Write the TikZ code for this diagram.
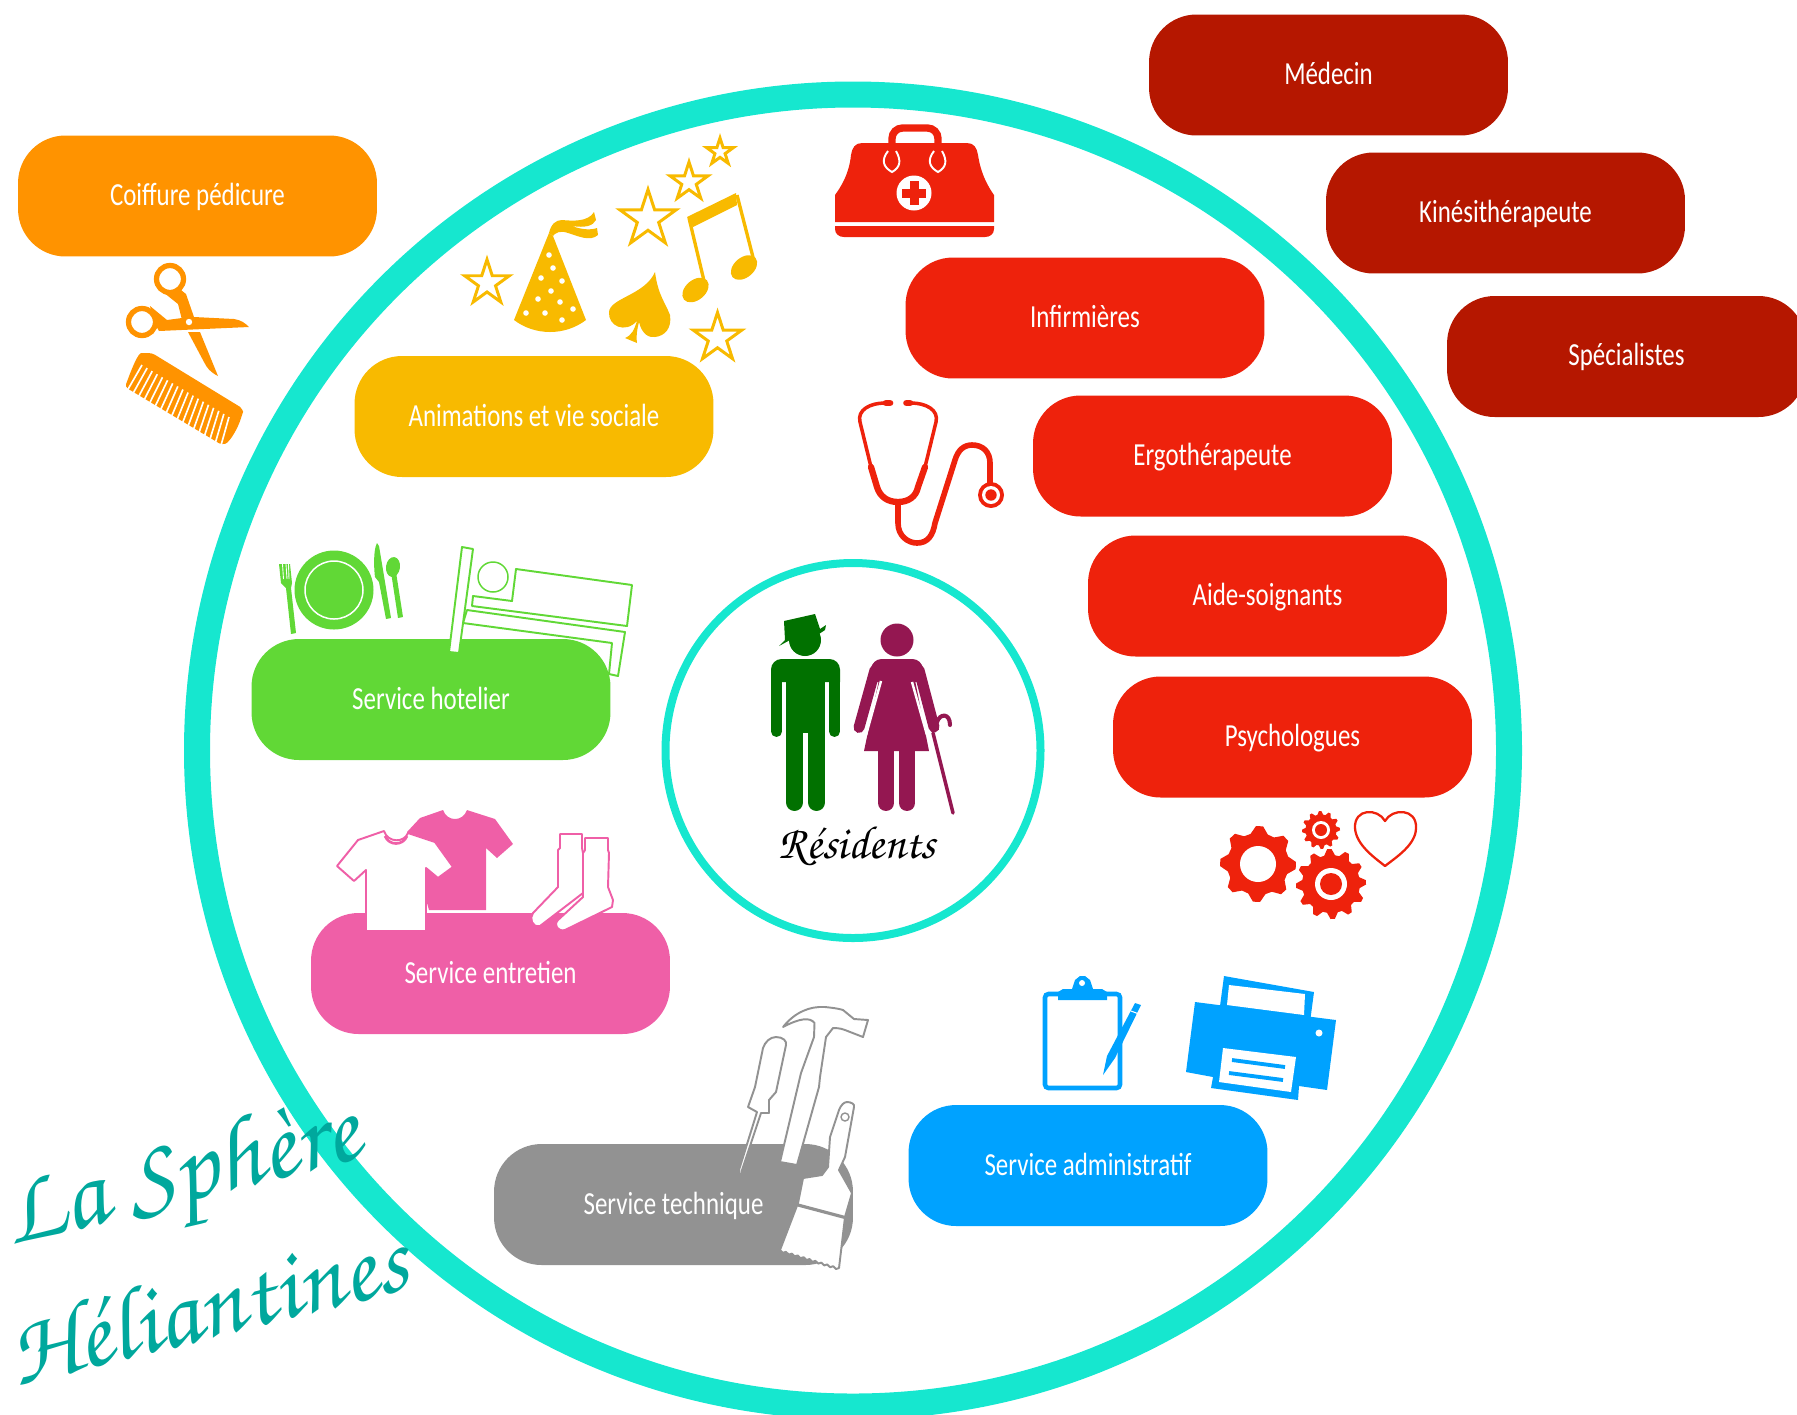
\documentclass[tikz,border=0pt]{standalone}
\usepackage{fontspec}
\setmainfont{Carlito}[FakeStretch=0.775]
\newfontfamily\chorusfont{TeX Gyre Chorus}
\definecolor{cring}{HTML}{16E7CF}
\definecolor{corange}{HTML}{FF9300}
\definecolor{cyellow}{HTML}{F8BA00}
\definecolor{cdarkred}{HTML}{B51700}
\definecolor{cred}{HTML}{EE220C}
\definecolor{cgreen}{HTML}{61D836}
\definecolor{cpink}{HTML}{EF5FA7}
\definecolor{cgray}{HTML}{929292}
\definecolor{cblue}{HTML}{00A2FF}
\definecolor{cman}{HTML}{017100}
\definecolor{cwoman}{HTML}{941751}
\definecolor{ctitle}{HTML}{00A89D}
\tikzset{
  pill/.style={rounded corners=0.95cm,minimum width=7.18cm,minimum height=2.42cm,inner sep=0pt,text=white,text height=14.8pt,text depth=4pt,font=\fontsize{18.3}{22}\selectfont},
  titletext/.style={text=ctitle,rotate=14,inner sep=0pt},
  outl/.style={fill=white,line width=1.1pt,line join=round},
  capline/.style={line cap=round,line join=round}
}
\newcommand\starshape[4]{\draw[draw=#4,line width=1.7pt,line join=miter,fill=white,shift={(#1,#2)},scale=#3]
  (0,-1)--(0.2245,-0.309)--(0.951,-0.309)--(0.363,0.118)--(0.588,0.809)--(0,0.382)--(-0.588,0.809)--(-0.363,0.118)--(-0.951,-0.309)--(-0.2245,-0.309)--cycle;}
% x y teeth root outer rotation
\newcommand\gearshape[6]{\fill[cred,shift={(#1,#2)}] (#6:#4)
  \foreach \i [evaluate=\i as \a using \i*360/#3+#6] in {1,...,#3}{
    -- ({\a-0.62*360/#3}:#4) -- ({\a-0.38*360/#3}:#5) -- ({\a-0.14*360/#3}:#5) -- ({\a+0.1*360/#3}:#4) -- ({\a+0.1*360/#3}:#4)
  } -- cycle;}
\begin{document}
\begin{tikzpicture}[x=0.02cm,y=-0.02cm]
\useasboundingbox (0,0) rectangle (1797,1414);
\clip (0,0) rectangle (1797,1414);
% rings
\draw[cring,line width=0.52cm] (853,750.5) circle[radius=656];
\draw[cring,line width=0.16cm] (853,750.5) circle[radius=187.5];
% bed frame, behind the green pill
\draw[cgreen,outl] (467,610)--(625,632)--(618,676)--(609,674)--(612,643)--(463,623)--cycle;
% pills
\node[pill,fill=corange] (coiffure) at (197.5,196) {Coiffure pédicure};
\node[pill,fill=cyellow] (animations) at (534,416.5) {Animations et vie sociale};
\node[pill,fill=cdarkred] (medecin) at (1328.5,75) {Médecin};
\node[pill,fill=cdarkred] (kine) at (1505.5,213) {Kinésithérapeute};
\node[pill,fill=cdarkred] (specialistes) at (1626.5,356.5) {Spécialistes};
\node[pill,fill=cred] (infirmieres) at (1085,318) {Infirmières};
\node[pill,fill=cred] (ergo) at (1212.5,456) {Ergothérapeute};
\node[pill,fill=cred] (aide) at (1267.5,596) {Aide-soignants};
\node[pill,fill=cred] (psy) at (1292.5,737) {Psychologues};
\node[pill,fill=cgreen] (hotelier) at (431,699.5) {Service hotelier};
\node[pill,fill=cpink] (entretien) at (490.5,973.5) {Service entretien};
\node[pill,fill=cgray] (technique) at (673.5,1204.5) {Service technique};
\node[pill,fill=cblue] (admin) at (1088,1165.5) {Service administratif};
% scissors
\draw[corange,line width=5pt*0.6] (170,279) circle[radius=13.5];
\draw[corange,line width=5pt*0.6] (142,322) circle[radius=13.5];
\fill[corange] (163,292)--(178,304)--(182,320)--(192,320)--(194,317)--(186,294)--(181,290)--cycle;
\fill[corange] (150,306)--(167,320)--(182,318)--(183,325)--(159,331)--(154,322)--cycle;
\fill[corange] (194,317)--(234,319) .. controls (241,320) and (245,323) .. (249,327) -- (159,331)--(182,318)--cycle;
\fill[corange] (188,332)--(200,332)--(218,376) .. controls (210,372) and (207,368) .. (204,362)--cycle;
\fill[white] (189,322) circle[radius=3.2];
% comb
\fill[corange,rounded corners=2pt] (125,387) .. controls (132,368) and (138,353) .. (145,353) -- (152,353) -- (237,405) .. controls (242,408) and (243,412) .. (242,415) .. controls (238,428) and (230,442) .. (222,445) -- cycle;
\foreach \t in {0,0.0588,...,1.01}{
  \draw[white,line width=0.95pt] ({142+87*\t},{365+52*\t}) -- ({127+93*\t},{391+58*\t});
}
% animation icons
\starshape{487}{283}{23.5}{cyellow}
\starshape{648}{219}{29.5}{cyellow}
\starshape{689}{182}{20}{cyellow}
\starshape{720}{152}{14}{cyellow}
\starshape{717.5}{338}{25.5}{cyellow}
% party hat
\fill[cyellow] (553,236) -- (586,320) .. controls (565,336) and (535,336) .. (514,320) -- (549,233) -- cycle;
\fill[cyellow] (549,233) .. controls (551,224) and (556,220) .. (562,220) .. controls (573,221) and (588,222) .. (594,212) -- (596,220) .. controls (593,226) and (585,228) .. (572,226) .. controls (582,230) and (592,230) .. (597,228) -- (598,235) .. controls (590,242) and (578,236) .. (568,233) .. controls (560,230) and (555,233) .. (553,236) -- cycle;
\foreach \px/\py in {549/255,553/268,541/278,562/281,551/291,538/299,560/302,573/309,526/313,545/313,562/320}{
  \fill[white] (\px,\py) circle[radius=2.8];
}
% spade
\fill[cyellow] (655,272) .. controls (645,295) and (610,298) .. (609,312) .. controls (608,326) and (625,334) .. (637,321) .. controls (634,330) and (632,335) .. (625,338) -- (637,343) .. controls (636,335) and (637,330) .. (639,322) .. controls (642,335) and (650,338) .. (655,337) .. controls (665,336) and (672,328) .. (670,315) .. controls (665,302) and (658,295) .. (655,272) -- cycle;
% notes
\fill[cyellow] (687,217)--(736,193)--(737,205)--(693,227)--cycle;
\draw[cyellow,line width=1.9pt] (689,218)--(705,285);
\draw[cyellow,line width=1.9pt] (737,195)--(755,265);
\fill[cyellow,rotate around={40:(695.5,290)}] (695.5,290) ellipse[x radius=15,y radius=10];
\fill[cyellow,rotate around={40:(744,267.5)}] (744,267.5) ellipse[x radius=15,y radius=10];
% plate and cutlery
\fill[cgreen] (334,590) circle[radius=39.5];
\draw[white,line width=0.85pt] (334,590) circle[radius=29];
\fill[cgreen] (279,564)--(281,583)--(286,588)--(291,634)--(296,633)--(291,588)--(292,583)--(290,564)--cycle;
\draw[white,line width=0.5pt] (282.5,564)--(283.5,579) (286,564)--(287,579) (288.5,564)--(289,579);
\fill[cgreen] (377,543) .. controls (373,550) and (374,570) .. (375,577) -- (379,582) -- (386,619) -- (391,618) -- (379,546) -- cycle;
\fill[cgreen,rotate around={-8:(393,567)}] (393,567) ellipse[x radius=7,y radius=10];
\fill[cgreen] (391,572)--(396,572)--(403,617)--(398,618)--cycle;
% bed
\draw[cgreen,outl] (462,547)--(473,549)--(459,653)--(449,652)--cycle;
\draw[cgreen,line width=0.85pt] (493,577) circle[radius=15];
\draw[cgreen,outl] (516,569)--(632,585)--(627,626)--(472,606)--(473,596)--(512,601)--cycle;
% shirts
\fill[cpink] (443,810) .. controls (447,822) and (463,822) .. (467,810) -- (470,811) -- (495,819) -- (513,844) -- (497,858) -- (486,848) -- (486,910) -- (429,910) -- (407,832) -- (420,818) -- cycle;
\draw[cpink,outl] (384,831) .. controls (388,843) and (404,843) .. (408,833) -- (435,842) -- (453,867) -- (438,878) -- (426,868) -- (426,931) -- (366,931) -- (366,870) -- (354,881) -- (337,866) -- (358,840) -- cycle;
\draw[cpink,line width=1.5pt] (385,836) .. controls (389,846) and (403,846) .. (407,836);
% socks
\draw[cpink,outl] (585,838)--(608,838)--(608,850)--(609,853)--(608,887)--(613,900)--(612,907)--(565,930) .. controls (558,932) and (553,925) .. (558,920) -- (583,897)--(583,853)--(585,850)--cycle;
\draw[cpink,outl] (560,834)--(582,834)--(582,848)--(583,853)--(583,893)--(540,926) .. controls (532,928) and (529,918) .. (533,913)--(558,887)--(558,850)--(560,848)--cycle;
% man
\fill[cman] (805,640) circle[radius=16];
\fill[cman] (784,621)--(815,614)--(820,629)--(826,625)--(825,630)--(819,634)--(800,632)--(790,640)--(779,646)--(785,640)--cycle;
\fill[cman] (771,682) [rounded corners=10pt*0.6] -- (771,659) -- (840,659) [sharp corners] -- (840,682) -- cycle;
\fill[cman] (786,670) rectangle (825,733);
\draw[cman,line width=11*0.567pt,line cap=round] (776.5,675)--(776.5,731.5);
\draw[cman,line width=11*0.567pt,line cap=round] (834.5,675)--(834.5,731.5);
\draw[cman,line width=17*0.567pt,line cap=round] (794.5,725)--(794.5,802.5);
\draw[cman,line width=17*0.567pt,line cap=round] (816.5,725)--(816.5,802.5);
% woman
\fill[cwoman] (897,640) circle[radius=16.5];
\draw[cwoman,line width=11*0.567pt,line cap=round] (875,670)--(859,727.5);
\draw[cwoman,line width=11*0.567pt,line cap=round] (919,670)--(934,727);
\fill[cwoman] (870,682) [rounded corners=9pt*0.6] -- (872,659) -- (922,659) [sharp corners] -- (924,682) -- cycle;
\fill[cwoman] (880,675)--(914,675)--(929,751)--(864,751)--cycle;
\draw[white,line width=1.4pt] (881,681)--(866,735);
\draw[white,line width=1.4pt] (912,682)--(927,735);
\draw[cwoman,line width=16*0.567pt,line cap=round] (886,745)--(886,803);
\draw[cwoman,line width=16*0.567pt,line cap=round] (907,745)--(907,803);
\draw[cwoman,line width=2pt,line cap=round] (933,733)--(953,813);
\draw[cwoman,line width=2.3pt,line cap=round] (937,722) .. controls (940,713) and (950,713) .. (950,725);
\node[inner sep=0pt,text=black,font=\chorusfont\fontsize{26.5}{30}\selectfont] (residents) at (857,846) {Résidents};
% doctor bag
\draw[cred,line width=4.2pt,rounded corners=6pt] (892,150)--(892,128)--(938,128)--(938,150);
\fill[cred] (835,222)--(835,195) .. controls (840,188) and (849,175) .. (851,155) .. controls (852,148) and (855,143) .. (862,143) -- (967,143) .. controls (974,143) and (977,148) .. (978,155) .. controls (981,175) and (989,188) .. (994,195) -- (994,222) -- cycle;
\fill[cred] (835,226)--(994,226)--(994,229) .. controls (994,234) and (990,237) .. (985,237) -- (844,237) .. controls (839,237) and (835,234) .. (835,229) -- cycle;
\draw[white,line width=1.1pt] (888,151) .. controls (881,160) and (883,167) .. (892,172) .. controls (901,167) and (901,160) .. (896,151);
\draw[white,line width=1.1pt] (934,151) .. controls (927,160) and (929,167) .. (938,172) .. controls (947,167) and (947,160) .. (942,151);
\fill[white] (914,193) circle[radius=17.5];
\fill[cred] (909.5,181) rectangle (918.5,205);
\fill[cred] (902,188.5) rectangle (926,197.5);
% stethoscope
\draw[cred,line width=2pt,capline] (871,467)--(860,422) .. controls (857,410) and (870,403) .. (885,403);
\draw[cred,line width=2pt,capline] (925,467)--(936,422) .. controls (939,410) and (926,403) .. (911,403);
\draw[cred,line width=3.8pt,capline] (886,403)--(890,403);
\draw[cred,line width=3.8pt,capline] (906.5,403)--(910,403);
\draw[cred,line width=3.6pt,capline] (871,467)--(877,487) .. controls (880,497) and (888,502) .. (898,502) .. controls (908,502) and (916,497) .. (918,487) -- (925,467);
\draw[cred,line width=3.2pt,capline] (898,502)--(898,523) .. controls (898,536) and (908,543) .. (917,543) .. controls (928,543) and (933,535) .. (935,523) -- (955,460) .. controls (958,450) and (964,445) .. (972,445) .. controls (983,445) and (990,452) .. (990,463) -- (990,485);
\fill[cred] (991,495) circle[radius=13];
\fill[white] (991,495) circle[radius=9];
\fill[cred] (991,495) circle[radius=5.7];
% gears and heart
\gearshape{1258}{864}{8}{31}{38}{14}
\fill[white] (1258,864) circle[radius=18];
\gearshape{1331}{884}{12}{29}{35}{5}
\fill[white] (1331,884) circle[radius=16];
\fill[cred] (1331,884) circle[radius=11];
\gearshape{1321}{830}{12}{15.5}{19}{5}
\fill[white] (1321,830) circle[radius=9];
\fill[cred] (1321,830) circle[radius=6];
\draw[cred,line width=1.3pt,line join=round] (1385,821) .. controls (1378,808) and (1354,808) .. (1355,828) .. controls (1356,845) and (1375,858) .. (1385,866) .. controls (1395,858) and (1416,845) .. (1416,828) .. controls (1417,808) and (1392,808) .. cycle;
% clipboard
\draw[cblue,line width=2.6pt,rounded corners=2pt] (1045,994) rectangle (1120,1088);
\fill[cblue] (1058,992)--(1063,989)--(1072,989)--(1075,980)--(1080,976)--(1085,976)--(1090,980)--(1093,989)--(1102,989)--(1107,992)--(1107,1000)--(1058,1000)--cycle;
\fill[white] (1082,983) circle[radius=3];
\fill[cblue] (1135,1003)--(1141,1005)--(1115,1058)--(1103,1075)--(1107,1056)--cycle;
\draw[white,line width=0.6pt] (1131,1011)--(1139,1014);
% printer
\fill[cblue] (1224,976)--(1314,992)--(1310,1022)--(1220,1006)--cycle;
\fill[white] (1229,985)--(1305,994)--(1304,1015)--(1227,1005)--cycle;
\fill[cblue] (1195,1002)--(1336,1020)--(1327,1090)--(1299,1086)--(1298,1100)--(1211,1088)--(1213,1077)--(1186,1072)--cycle;
\fill[white] (1223,1048)--(1296,1057)--(1291,1092)--(1219,1082)--cycle;
\draw[cblue,line width=2.2pt] (1232,1060)--(1285,1067);
\draw[cblue,line width=2.2pt] (1229,1073)--(1283,1080);
\fill[white] (1319,1033) circle[radius=3.5];
% tools
\draw[cgray,outl] (776,1037) .. controls (783,1037) and (787,1041) .. (786,1045) -- (776,1092) -- (769,1100) -- (769,1113) -- (761,1113) -- (742,1170) -- (740,1182) -- (739,1170) -- (757,1112) -- (748,1107) -- (755,1087) -- (763,1048) .. controls (765,1042) and (770,1037) .. (776,1037) -- cycle;
\draw[cgray,outl] (783,1027) .. controls (795,1012) and (810,1006) .. (825,1007) .. controls (835,1008) and (840,1009) .. (843,1010) -- (854,1019) -- (868,1020) -- (863,1037) -- (845,1030) .. controls (840,1028) and (835,1028) .. (833,1028) -- (826,1037) -- (820,1077) -- (819,1087) -- (797,1165) -- (780,1162) -- (801,1073) -- (814,1037) -- (814.5,1023) .. controls (810,1017) and (800,1018) .. (783,1027) -- cycle;
\draw[cgray,outl] (847,1102) .. controls (851,1102) and (855,1104) .. (854,1107) -- (845,1157) -- (839,1170) -- (852,1193) -- (845,1217) -- (839,1268) \foreach \i in {1,...,10}{ -- ({839-5.9*\i+2.9},{1268-1.8*\i+2.8}) -- ({839-5.9*\i},{1268-1.8*\i}) } -- (798,1203) -- (803,1178) -- (822,1175) -- (828,1167) -- (830,1137) -- (839,1110) .. controls (841,1105) and (844,1102) .. (847,1102) -- cycle;
\draw[cgray,line width=1.8pt] (798,1205)--(847,1218);
\draw[cgray,line width=0.8pt] (845,1117) circle[radius=4];
% title
\node[titletext,font=\chorusfont\fontsize{58.5}{66}\selectfont] (titleone) at (183,1180) {La Sphère};
\node[titletext,font=\chorusfont\fontsize{57}{64}\selectfont] (titletwo) at (207,1305) {Héliantines};
\end{tikzpicture}
\end{document}
